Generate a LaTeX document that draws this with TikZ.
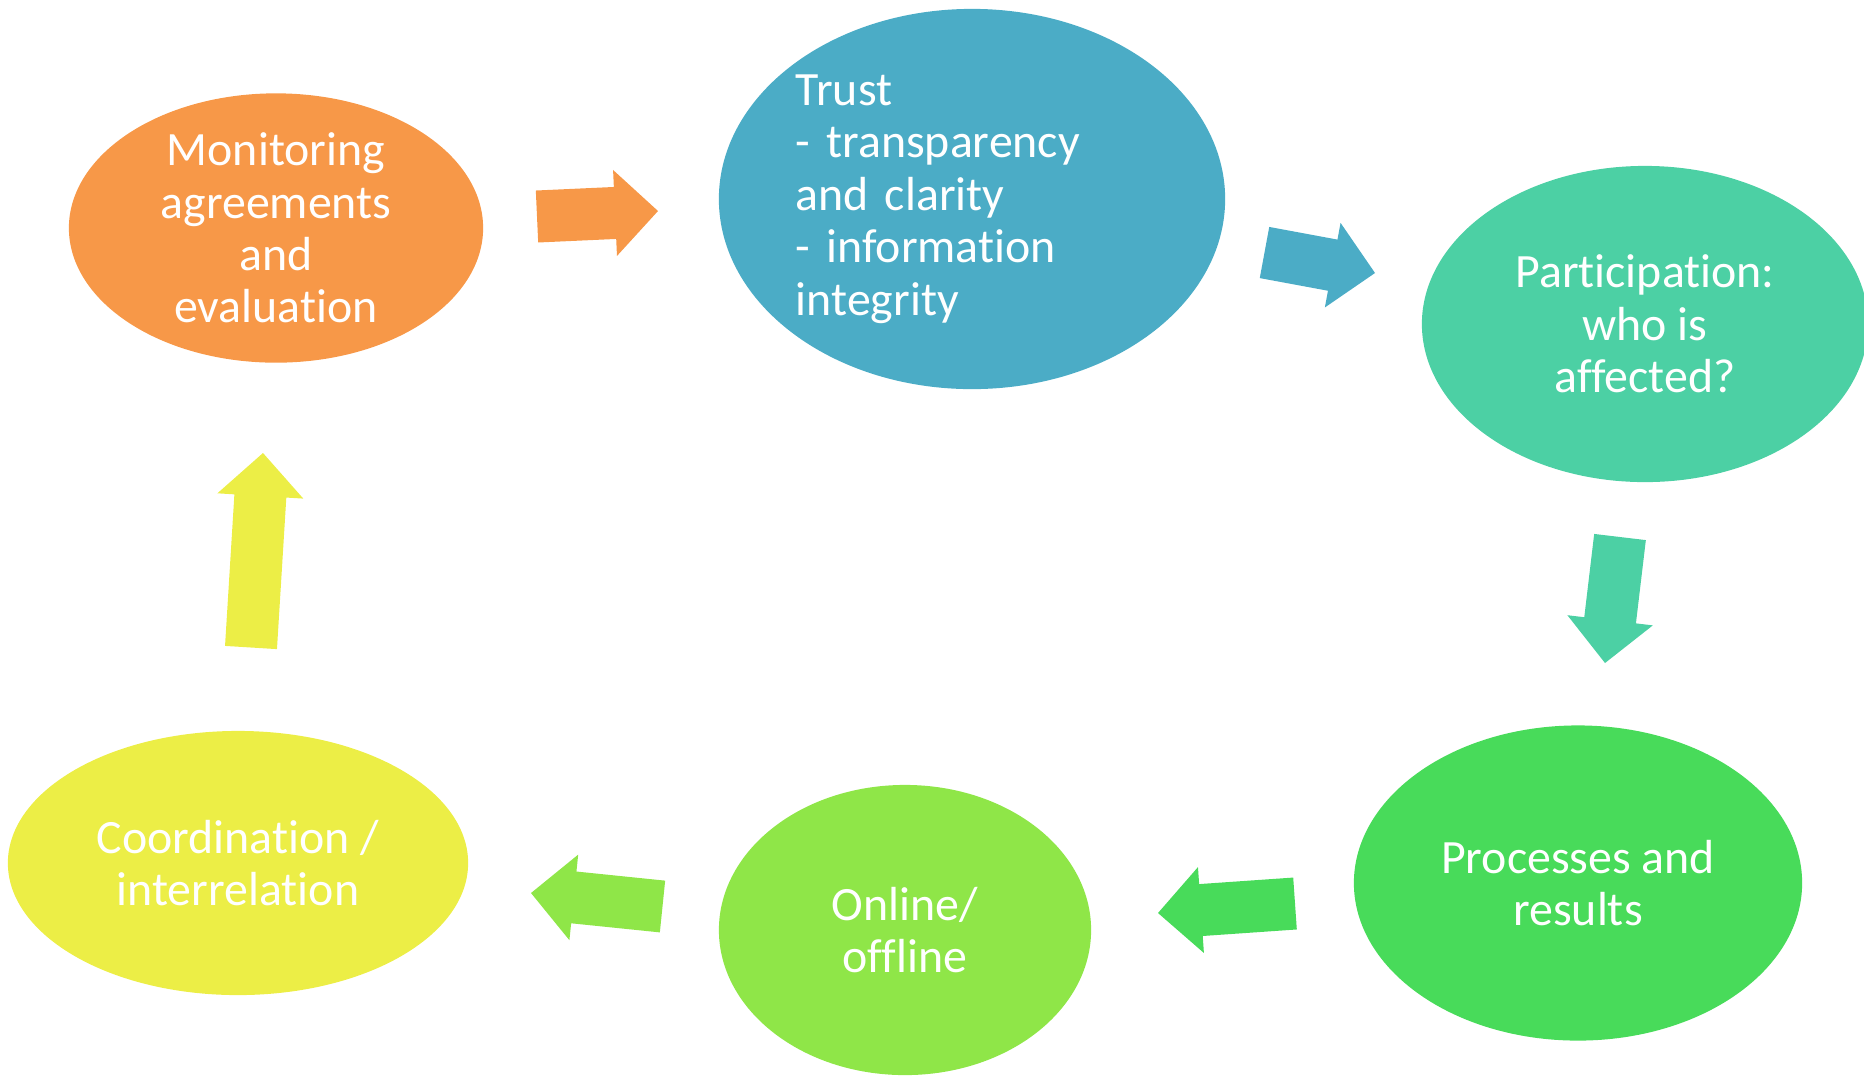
\documentclass[tikz,border=0pt]{standalone}
\usepackage{fontspec}
\setmainfont[Ligatures=NoCommon]{Carlito}
\usetikzlibrary{calc}
\usetikzlibrary{shapes.geometric}

\definecolor{monorange}{RGB}{247,152,72}
\definecolor{trustblue}{RGB}{75,172,198}
\definecolor{partteal}{RGB}{76,208,164}
\definecolor{procgreen}{RGB}{72,219,90}
\definecolor{onlinegreen}{RGB}{143,230,72}
\definecolor{coordyellow}{RGB}{236,238,70}

% block arrow from tail centre #2 to tip #3
\newcommand{\blockarrow}[3]{%
  \coordinate (hb) at ($(#3)!0.43cm!(#2)$);
  \fill[#1] ($(#2)!0.26cm!90:(#3)$) -- ($(hb)!0.26cm!90:(#3)$) -- ($(hb)!0.43cm!90:(#3)$)
    -- (#3) -- ($(hb)!0.43cm!-90:(#3)$) -- ($(hb)!0.26cm!-90:(#3)$) -- ($(#2)!0.26cm!-90:(#3)$) -- cycle;}

\begin{document}
\begin{tikzpicture}[x=0.01cm,y=-0.01cm]
\tikzstyle{bubble}=[ellipse,inner sep=0pt,text=white,align=center,font=\fontsize{13.6}{14.9}\selectfont]
\useasboundingbox (0,0) rectangle (1864,1075);

\node[bubble,fill=monorange,minimum width=4.14cm,minimum height=2.61cm] at(276, 228) (mon) {Monitoring\\agreements\\and\\evaluation};
\node[bubble,fill=trustblue,minimum width=5.06cm,minimum height=3.80cm,text width=3.52cm,align=left] at(972, 199) (trust) {Trust\\- transparency\\and clarity\\- information\\integrity};
\node[bubble,fill=partteal,minimum width=4.46cm,minimum height=3.16cm] at(1645, 324) (part) {Participation:\\who is\\affected?};
\node[bubble,fill=procgreen,minimum width=4.48cm,minimum height=3.15cm] at(1578, 883) (proc) {Processes and\\results};
\node[bubble,fill=onlinegreen,minimum width=3.72cm,minimum height=2.90cm] at(905, 930) (online) {Online/\\offline};
\node[bubble,fill=coordyellow,minimum width=4.60cm,minimum height=2.64cm] at(238, 863) (coord) {Coordination /\\interrelation};

% arrow ends
\coordinate (montrust-s) at (537, 216.5);
\coordinate (montrust-e) at (658, 211);
\coordinate (trustpart-s) at (1264.5, 252.5);
\coordinate (trustpart-e) at (1375, 273);
\coordinate (partproc-s) at (1620, 537);
\coordinate (partproc-e) at (1605, 663);
\coordinate (proconline-s) at (1295, 903.5);
\coordinate (proconline-e) at (1158, 913);
\coordinate (onlinecoord-s) at (662.5, 906.5);
\coordinate (onlinecoord-e) at (531, 893);
\coordinate (coordmon-s) at (251, 647.5);
\coordinate (coordmon-e) at (263, 453);

\blockarrow{monorange}{montrust-s}{montrust-e}
\blockarrow{trustblue}{trustpart-s}{trustpart-e}
\blockarrow{partteal}{partproc-s}{partproc-e}
\blockarrow{procgreen}{proconline-s}{proconline-e}
\blockarrow{onlinegreen}{onlinecoord-s}{onlinecoord-e}
\blockarrow{coordyellow}{coordmon-s}{coordmon-e}
\end{tikzpicture}
\end{document}
